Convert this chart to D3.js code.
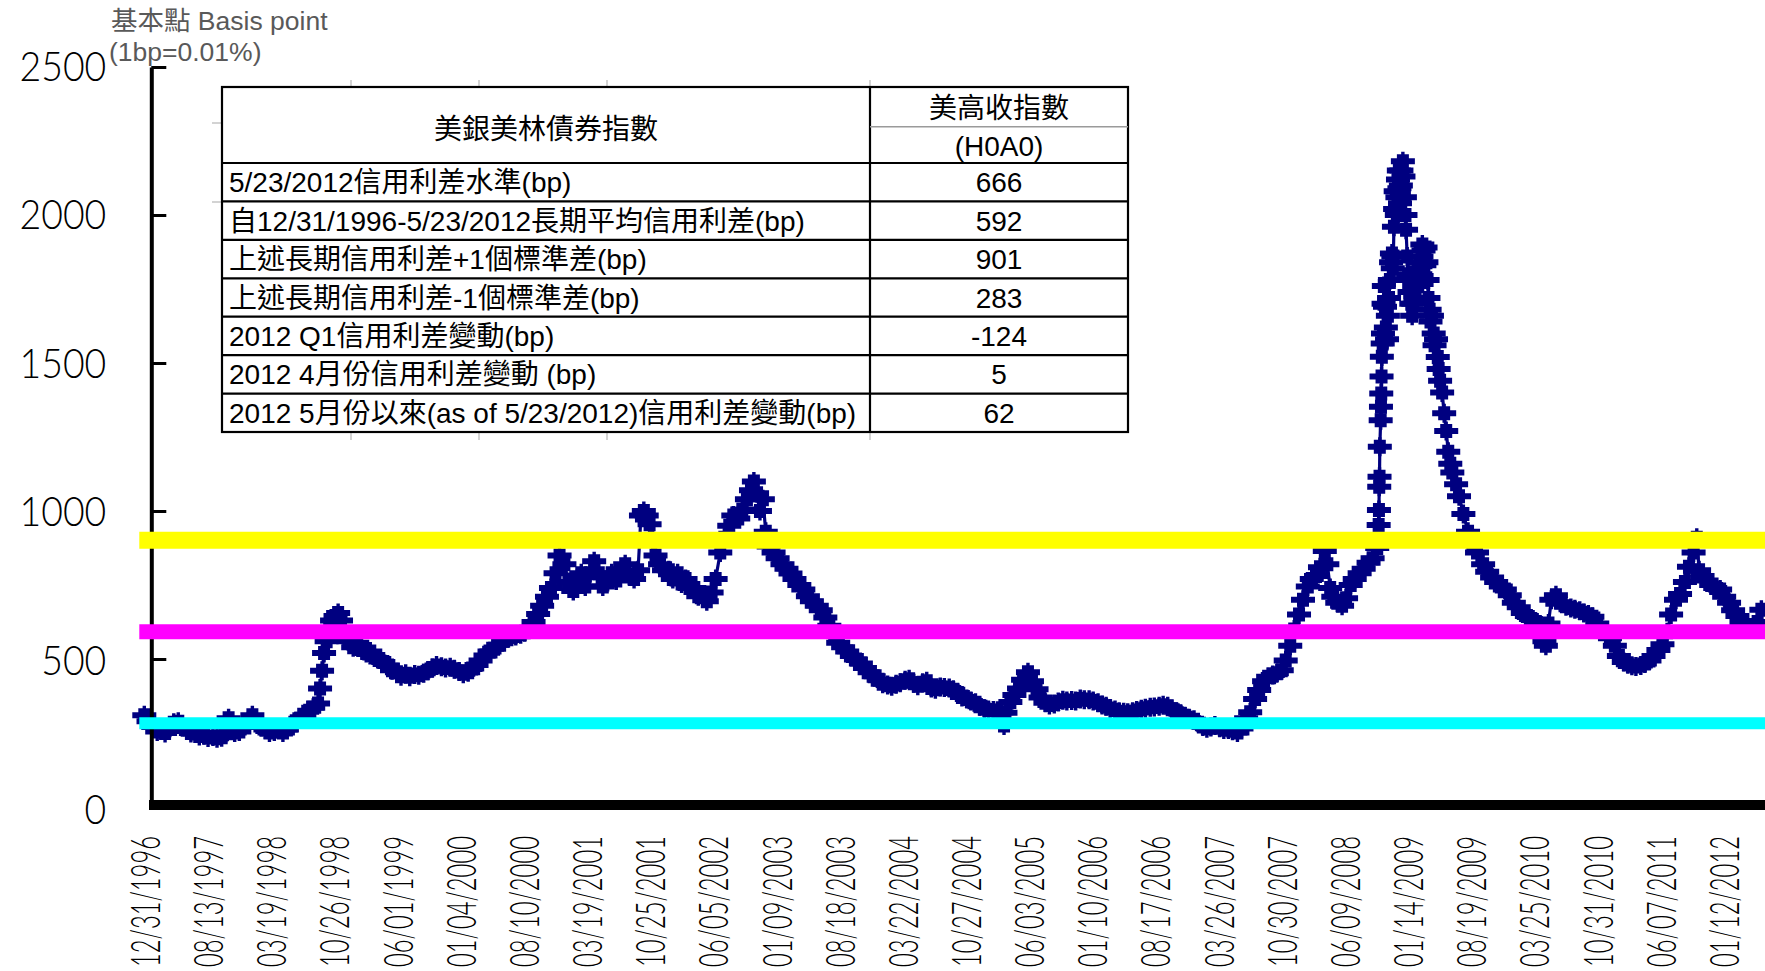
<!DOCTYPE html>
<html>
<head>
<meta charset="utf-8">
<title>美高收指數信用利差</title>
<script src="https://cdn.jsdelivr.net/npm/d3@7/dist/d3.min.js"></script>
<style>
  html, body { margin: 0; padding: 0; background: #fff; overflow: hidden; }
  svg { display: block; }
</style>
</head>
<body>
<svg id="chart" width="1765" height="971"></svg>
<script>
// ---------------------------------------------------------------
// Data
// ---------------------------------------------------------------

// Category axis labels (one every ~157 trading days)
const axisDateLabels = [
  "12/31/1996", "08/13/1997", "03/19/1998", "10/26/1998", "06/01/1999",
  "01/04/2000", "08/10/2000", "03/19/2001", "10/25/2001", "06/05/2002",
  "01/09/2003", "08/18/2003", "03/22/2004", "10/27/2004", "06/03/2005",
  "01/10/2006", "08/17/2006", "03/26/2007", "10/30/2007", "06/09/2008",
  "01/14/2009", "08/19/2009", "03/25/2010", "10/31/2010", "06/07/2011",
  "01/12/2012"
];
const lastObservation = "2012-05-23";

const yTickValues = [0, 500, 1000, 1500, 2000, 2500];

// BofA Merrill Lynch US High Yield (H0A0) spread, bp  — [MM-DD, value]
const spread1996 = [["12-31", 310]];
const spread1997 = [
  ["01-15", 290], ["02-01", 270], ["02-15", 255], ["03-01", 262], ["03-15", 250],
  ["04-01", 268], ["04-15", 285], ["05-01", 288], ["05-15", 270], ["06-01", 262],
  ["06-15", 250], ["07-01", 248], ["07-15", 240], ["08-01", 242], ["08-15", 235],
  ["09-01", 238], ["09-15", 232], ["10-01", 236], ["10-15", 250], ["10-25", 300],
  ["11-01", 262], ["11-15", 252], ["12-01", 255], ["12-15", 270]
];
const spread1998 = [
  ["01-01", 290], ["01-15", 310], ["02-01", 285], ["02-15", 270], ["03-01", 262],
  ["03-15", 252], ["04-01", 255], ["04-15", 262], ["05-01", 252], ["05-15", 262],
  ["06-01", 275], ["06-15", 290], ["07-01", 298], ["07-15", 310], ["08-01", 325],
  ["08-15", 335], ["09-01", 350], ["09-08", 400], ["09-15", 460], ["09-22", 520],
  ["10-01", 560], ["10-10", 600], ["10-20", 630], ["11-01", 645], ["11-10", 655],
  ["11-20", 630], ["12-01", 590], ["12-15", 560]
];
const spread1999 = [
  ["01-01", 540], ["01-15", 555], ["02-01", 530], ["02-15", 520], ["03-01", 525],
  ["03-15", 505], ["04-01", 500], ["04-15", 490], ["05-01", 478], ["05-15", 462],
  ["06-01", 455], ["06-15", 442], ["07-01", 450], ["07-15", 440], ["08-01", 448],
  ["08-15", 445], ["09-01", 452], ["09-15", 460], ["10-01", 470], ["10-15", 478],
  ["11-01", 474], ["11-15", 470], ["12-01", 472], ["12-15", 465]
];
const spread2000 = [
  ["01-01", 458], ["01-15", 450], ["02-01", 455], ["02-15", 468], ["03-01", 480],
  ["03-15", 495], ["04-01", 512], ["04-15", 525], ["05-01", 535], ["05-15", 548],
  ["06-01", 562], ["06-15", 572], ["07-01", 575], ["07-15", 578], ["08-01", 584],
  ["08-15", 590], ["09-01", 600], ["09-15", 625], ["10-01", 652], ["10-15", 680],
  ["11-01", 710], ["11-15", 740], ["12-01", 790], ["12-15", 850]
];
const spread2001 = [
  ["01-01", 820], ["01-15", 760], ["02-01", 730], ["02-15", 770], ["03-01", 790],
  ["03-15", 745], ["04-01", 790], ["04-15", 830], ["05-01", 790], ["05-15", 745],
  ["06-01", 760], ["06-15", 790], ["07-01", 765], ["07-15", 795], ["08-01", 820],
  ["08-15", 780], ["09-01", 770], ["09-15", 800], ["09-25", 985], ["10-05", 1000],
  ["10-15", 985], ["10-25", 955], ["11-05", 900], ["11-15", 850], ["12-01", 820],
  ["12-15", 800]
];
const spread2002 = [
  ["01-01", 800], ["01-15", 770], ["02-01", 790], ["02-15", 755], ["03-01", 770],
  ["03-15", 740], ["04-01", 740], ["04-15", 712], ["05-01", 715], ["05-15", 695],
  ["06-01", 725], ["06-15", 770], ["07-01", 860], ["07-15", 910], ["08-01", 950],
  ["08-15", 985], ["09-01", 975], ["09-15", 1005], ["10-01", 1040], ["10-15", 1070],
  ["10-25", 1100], ["11-05", 1060], ["11-15", 1000], ["11-25", 1040], ["12-05", 930],
  ["12-15", 880], ["12-25", 900]
];
const spread2003 = [
  ["01-01", 860], ["01-15", 840], ["02-01", 820], ["02-15", 805], ["03-01", 789],
  ["03-15", 770], ["04-01", 750], ["04-15", 735], ["05-01", 712], ["05-15", 695],
  ["06-01", 680], ["06-15", 665], ["07-01", 640], ["07-15", 612], ["08-01", 578],
  ["08-15", 555], ["09-01", 540], ["09-15", 525], ["10-01", 510], ["10-15", 498],
  ["11-01", 485], ["11-15", 470], ["12-01", 455], ["12-15", 442]
];
const spread2004 = [
  ["01-01", 430], ["01-15", 416], ["02-01", 412], ["02-15", 408], ["03-01", 415],
  ["03-15", 420], ["04-01", 428], ["04-15", 432], ["05-01", 418], ["05-15", 410],
  ["06-01", 420], ["06-15", 425], ["07-01", 402], ["07-15", 398], ["08-01", 405],
  ["08-15", 404], ["09-01", 402], ["09-15", 396], ["10-01", 385], ["10-15", 372],
  ["11-01", 365], ["11-15", 358], ["12-01", 352], ["12-15", 340]
];
const spread2005 = [
  ["01-01", 332], ["01-15", 328], ["02-01", 326], ["02-15", 325], ["03-01", 320],
  ["03-10", 275], ["03-15", 318], ["04-01", 355], ["04-15", 378], ["05-01", 400],
  ["05-15", 430], ["06-01", 455], ["06-15", 425], ["07-01", 398], ["07-15", 370],
  ["08-01", 352], ["08-15", 345], ["09-01", 348], ["09-15", 355], ["10-01", 361],
  ["10-15", 358], ["11-01", 360], ["11-15", 358], ["12-01", 365], ["12-15", 362]
];
const spread2006 = [
  ["01-01", 362], ["01-15", 358], ["02-01", 352], ["02-15", 345], ["03-01", 340],
  ["03-15", 333], ["04-01", 328], ["04-15", 322], ["05-01", 320], ["05-15", 318],
  ["06-01", 322], ["06-15", 326], ["07-01", 330], ["07-15", 334], ["08-01", 337],
  ["08-15", 338], ["09-01", 340], ["09-15", 344], ["10-01", 340], ["10-15", 330],
  ["11-01", 322], ["11-15", 315], ["12-01", 306], ["12-15", 300]
];
const spread2007 = [
  ["01-01", 295], ["01-15", 285], ["02-01", 272], ["02-15", 266], ["03-01", 270],
  ["03-15", 275], ["04-01", 268], ["04-15", 262], ["05-01", 262], ["05-15", 258],
  ["06-01", 252], ["06-15", 265], ["07-01", 300], ["07-15", 320], ["08-01", 365],
  ["08-15", 395], ["09-01", 425], ["09-15", 440], ["10-01", 446], ["10-15", 452],
  ["11-01", 462], ["11-15", 495], ["12-01", 545], ["12-15", 600]
];
const spread2008 = [
  ["01-01", 650], ["01-15", 700], ["02-01", 745], ["02-15", 770], ["03-01", 780],
  ["03-15", 810], ["04-01", 865], ["04-10", 820], ["04-20", 740], ["05-01", 710],
  ["05-15", 690], ["06-01", 680], ["06-15", 705], ["07-01", 750], ["07-15", 770],
  ["08-01", 790], ["08-15", 805], ["09-01", 825], ["09-15", 840], ["10-01", 875],
  ["10-06", 953], ["10-07", 1003], ["10-08", 1082], ["10-09", 1116], ["10-10", 1217],
  ["10-13", 1307], ["10-14", 1352], ["10-15", 1397], ["10-16", 1454], ["10-17", 1521],
  ["10-20", 1566], ["10-21", 1600], ["10-23", 1700], ["10-24", 1760], ["10-28", 1690],
  ["10-31", 1620], ["11-04", 1580], ["11-07", 1660], ["11-11", 1720], ["11-14", 1780],
  ["11-18", 1840], ["11-21", 1870], ["11-24", 1820], ["11-26", 1860], ["11-28", 1960],
  ["12-02", 2020], ["12-04", 2080], ["12-08", 2000], ["12-10", 2060], ["12-12", 2120],
  ["12-15", 2150], ["12-17", 2090], ["12-19", 2040], ["12-22", 2100], ["12-24", 2150],
  ["12-29", 2182], ["12-31", 2130]
];
const spread2009 = [
  ["01-05", 2060], ["01-07", 2000], ["01-09", 1950], ["01-13", 1860], ["01-16", 1800],
  ["01-21", 1740], ["01-23", 1780], ["01-27", 1700], ["01-30", 1660], ["02-03", 1700],
  ["02-06", 1760], ["02-10", 1720], ["02-13", 1780], ["02-18", 1820], ["02-20", 1760],
  ["02-24", 1840], ["02-27", 1800], ["03-03", 1860], ["03-06", 1900], ["03-10", 1880],
  ["03-13", 1830], ["03-17", 1890], ["03-20", 1840], ["03-24", 1780], ["03-27", 1720],
  ["03-31", 1680], ["04-03", 1640], ["04-08", 1660], ["04-14", 1600], ["04-17", 1560],
  ["04-22", 1580], ["04-28", 1520], ["05-01", 1480], ["05-06", 1440], ["05-13", 1400],
  ["05-20", 1330], ["05-27", 1270], ["06-03", 1200], ["06-10", 1160], ["06-17", 1130],
  ["06-30", 1090], ["07-10", 1050], ["07-25", 990], ["08-10", 930], ["08-25", 890],
  ["09-10", 860], ["10-01", 820], ["10-15", 795], ["11-01", 775], ["11-15", 760],
  ["12-01", 745], ["12-15", 735]
];
const spread2010 = [
  ["01-01", 715], ["01-15", 690], ["02-01", 675], ["02-15", 655], ["03-01", 645],
  ["03-15", 635], ["04-01", 625], ["04-15", 600], ["05-01", 560], ["05-06", 545],
  ["05-15", 620], ["05-25", 700], ["06-10", 715], ["06-25", 690], ["07-15", 678],
  ["08-01", 672], ["08-15", 668], ["09-01", 663], ["09-15", 655], ["10-01", 650],
  ["10-15", 643], ["11-01", 620], ["11-15", 600], ["12-01", 585], ["12-15", 570]
];
const spread2011 = [
  ["01-01", 545], ["01-15", 510], ["02-01", 490], ["02-15", 482], ["03-01", 477],
  ["03-15", 475], ["04-01", 478], ["04-15", 485], ["05-01", 495], ["05-15", 510],
  ["06-01", 530], ["06-15", 550], ["07-01", 590], ["07-15", 650], ["08-01", 700],
  ["08-15", 720], ["09-01", 760], ["09-15", 812], ["10-01", 860], ["10-12", 910],
  ["10-20", 800], ["11-01", 780], ["11-15", 765], ["12-01", 750], ["12-15", 740]
];
const spread2012 = [
  ["01-01", 735], ["01-15", 710], ["02-01", 690], ["02-15", 665], ["03-01", 645],
  ["03-15", 625], ["04-01", 610], ["04-15", 605], ["05-01", 615], ["05-10", 625],
  ["05-23", 666]
];

// Reference levels: long-run mean and ±1 standard deviation (bp)
const levelNames  = ["+1σ", "mean", "-1σ"];
const levelValues = [901, 592, 283];

// Summary table
const tableHeadLeft  = "美銀美林債券指數";
const tableHeadRight = ["美高收指數", "(H0A0)"];
const tableRowLabels = [
  "5/23/2012信用利差水準(bp)",
  "自12/31/1996-5/23/2012長期平均信用利差(bp)",
  "上述長期信用利差+1個標準差(bp)",
  "上述長期信用利差-1個標準差(bp)",
  "2012 Q1信用利差變動(bp)",
  "2012 4月份信用利差變動 (bp)",
  "2012 5月份以來(as of 5/23/2012)信用利差變動(bp)"
];
const tableRowValues = ["666", "592", "901", "283", "-124", "5", "62"];

const unitLines = ["基本點 Basis point", "(1bp=0.01%)"];

// ---------------------------------------------------------------
// Styles
// ---------------------------------------------------------------
const W = 1765, H = 971;
const NAVY = "#000080";
const levelStyle = {
  "+1σ":  { color: "#FFFF00", width: 17 },
  "mean": { color: "#FF00FF", width: 15 },
  "-1σ":  { color: "#00FFFF", width: 12 }
};
const TEXT_FONT = "'Liberation Sans', Arial, 'Noto Sans CJK TC', sans-serif";
const AXIS_FONT = "Lato, 'Liberation Sans', Arial, sans-serif";
// chunky plus marker drawn at every observation
const MARKER = "M-12,-3H-6V-7H-1.7V-9.5H1.7V-7H6V-3H12V3H6V7H1.7V9.5H-1.7V7H-6V3H-12Z";

// ---------------------------------------------------------------
// Scales
// ---------------------------------------------------------------
const svg = d3.select("#chart");
const parseMDY = d3.timeParse("%m/%d/%Y");
const parseISO = d3.timeParse("%Y-%m-%d");
const fmtMDY = d3.timeFormat("%m/%d/%Y");

const labelDates = axisDateLabels.map(parseMDY);
const endDate = parseISO(lastObservation);
const X0 = 144.3, STEP = 63.16;            // category spacing between labels
const nL = labelDates.length;
const xRange = labelDates.map((d, i) => X0 + i * STEP);
const lastRate = STEP / (labelDates[nL - 1] - labelDates[nL - 2]);
xRange.push(xRange[nL - 1] + (endDate - labelDates[nL - 1]) * lastRate);

const x = d3.scaleTime().domain([...labelDates, endDate]).range(xRange);
const y = d3.scaleLinear().domain([0, 2500]).range([807, 67]);

const spreadByYear = {
  1996: spread1996, 1997: spread1997, 1998: spread1998, 1999: spread1999,
  2000: spread2000, 2001: spread2001, 2002: spread2002, 2003: spread2003,
  2004: spread2004, 2005: spread2005, 2006: spread2006, 2007: spread2007,
  2008: spread2008, 2009: spread2009, 2010: spread2010, 2011: spread2011,
  2012: spread2012
};
const series = Object.entries(spreadByYear).flatMap(([yr, rows]) =>
  rows.map(([md, v]) => ({ date: parseISO(`${yr}-${md}`), value: v })));

// ---------------------------------------------------------------
// Spread series: connecting line + markers
// ---------------------------------------------------------------
const plot = svg.append("g").attr("class", "series");
plot.append("path")
  .datum(series)
  .attr("fill", "none")
  .attr("stroke", NAVY)
  .attr("stroke-width", 3.2)
  .attr("stroke-linejoin", "round")
  .attr("d", d3.line().x(d => x(d.date)).y(d => y(d.value)));

plot.selectAll("path.marker")
  .data(series)
  .join("path")
  .attr("class", "marker")
  .attr("d", MARKER)
  .attr("fill", NAVY)
  .attr("transform", d => `translate(${x(d.date)},${y(d.value)})`);

// ---------------------------------------------------------------
// Axes
// ---------------------------------------------------------------
const yAxis = d3.axisLeft(y)
  .tickValues(yTickValues)
  .tickFormat(d3.format("d"))
  .tickSize(-15)
  .tickSizeOuter(0)
  .tickPadding(45);

const gy = svg.append("g")
  .attr("class", "y-axis")
  .attr("transform", "translate(151.3,0)")
  .call(yAxis);
gy.select(".domain").attr("stroke", "#000").attr("stroke-width", 4);
gy.selectAll(".tick line").attr("stroke", "#000").attr("stroke-width", 3);
gy.selectAll(".tick text")
  .attr("fill", "#000")
  .attr("font-family", AXIS_FONT)
  .attr("font-weight", 300)
  .attr("font-size", 42)
  .attr("dy", d => (16 + d / 2500 * -3) + "px")
  .attr("textLength", d => String(d).length * 21.7)
  .attr("lengthAdjust", "spacingAndGlyphs");

// heavy baseline
svg.append("line")
  .attr("x1", 149).attr("x2", W)
  .attr("y1", y(0) - 2).attr("y2", y(0) - 2)
  .attr("stroke", "#000").attr("stroke-width", 10);

const xAxis = d3.axisBottom(x)
  .tickValues(labelDates)
  .tickFormat(fmtMDY)
  .tickSize(0);

const gx = svg.append("g")
  .attr("class", "x-axis")
  .attr("transform", "translate(0,836)")
  .call(xAxis);
gx.select(".domain").remove();
gx.selectAll(".tick text")
  .attr("x", 0).attr("y", 0)
  .attr("dy", "0.36em")
  .attr("transform", "rotate(-90)")
  .attr("text-anchor", "end")
  .attr("fill", "#000")
  .attr("font-family", AXIS_FONT)
  .attr("font-weight", 300)
  .attr("font-size", 42)
  .attr("textLength", 131)
  .attr("lengthAdjust", "spacingAndGlyphs");

// ---------------------------------------------------------------
// Mean / ±1σ level lines
// ---------------------------------------------------------------
const levels = levelNames.map((name, i) => ({ name, value: levelValues[i] }));
svg.append("g").attr("class", "levels")
  .selectAll("line")
  .data(levels)
  .join("line")
  .attr("x1", x(labelDates[0]) - 5)
  .attr("x2", W)
  .attr("y1", d => y(d.value))
  .attr("y2", d => y(d.value))
  .attr("stroke", d => levelStyle[d.name].color)
  .attr("stroke-width", d => levelStyle[d.name].width);

// ---------------------------------------------------------------
// Unit caption
// ---------------------------------------------------------------
svg.append("g").attr("class", "unit")
  .selectAll("text")
  .data(unitLines)
  .join("text")
  .attr("x", (d, i) => i === 0 ? 111 : 109)
  .attr("y", (d, i) => i === 0 ? 30 : 61)
  .attr("font-family", TEXT_FONT)
  .attr("font-size", 26.5)
  .attr("fill", "#595959")
  .text(d => d);

// ---------------------------------------------------------------
// Summary table
// ---------------------------------------------------------------
const T = { left: 222, mid: 870, right: 1128, top: 87, headSplit: 126.7, headBottom: 163, bottom: 432 };
const rowH = (T.bottom - T.headBottom) / tableRowLabels.length;
const table = svg.append("g").attr("class", "table");

// faint sheet-grid stubs around the pasted range
const stubX = [351, 479, 607, 870];
table.selectAll("line.stub-top").data(stubX).join("line")
  .attr("x1", d => d).attr("x2", d => d).attr("y1", T.top - 7).attr("y2", T.top)
  .attr("stroke", "#c4c4c4").attr("stroke-width", 1.5);
table.selectAll("line.stub-bot").data(stubX).join("line")
  .attr("x1", d => d).attr("x2", d => d).attr("y1", T.bottom).attr("y2", T.bottom + 8)
  .attr("stroke", "#c4c4c4").attr("stroke-width", 1.5);
table.selectAll("line.stub-left").data([123, 202]).join("line")
  .attr("x1", T.left - 10).attr("x2", T.left).attr("y1", d => d).attr("y2", d => d)
  .attr("stroke", "#c4c4c4").attr("stroke-width", 1.5);

table.append("rect")
  .attr("x", T.left).attr("y", T.top)
  .attr("width", T.right - T.left).attr("height", T.bottom - T.top)
  .attr("fill", "#fff").attr("stroke", "#000").attr("stroke-width", 2.2);

table.append("line")
  .attr("x1", T.mid).attr("x2", T.mid).attr("y1", T.top).attr("y2", T.bottom)
  .attr("stroke", "#000").attr("stroke-width", 2.2);
table.append("line")
  .attr("x1", T.mid).attr("x2", T.right).attr("y1", T.headSplit).attr("y2", T.headSplit)
  .attr("stroke", "#9a9a9a").attr("stroke-width", 1.5);

const rowTops = d3.range(tableRowLabels.length).map(i => T.headBottom + i * rowH);
table.selectAll("line.row").data(rowTops).join("line")
  .attr("class", "row")
  .attr("x1", T.left).attr("x2", T.right)
  .attr("y1", d => d).attr("y2", d => d)
  .attr("stroke", "#000").attr("stroke-width", 2.2);

const tText = sel => sel
  .attr("font-family", TEXT_FONT)
  .attr("font-size", 28)
  .attr("fill", "#000")
  .attr("dy", "0.36em");

table.append("text").call(tText)
  .attr("x", (T.left + T.mid) / 2).attr("y", 129)
  .attr("text-anchor", "middle")
  .text(tableHeadLeft);
table.selectAll("text.head-r").data(tableHeadRight).join("text").call(tText)
  .attr("class", "head-r")
  .attr("x", (T.mid + T.right) / 2)
  .attr("y", (d, i) => i === 0 ? 108 : 146)
  .attr("text-anchor", "middle")
  .text(d => d);

table.selectAll("text.row-label").data(tableRowLabels).join("text").call(tText)
  .attr("class", "row-label")
  .attr("x", T.left + 7)
  .attr("y", (d, i) => rowTops[i] + rowH / 2)
  .text(d => d);
table.selectAll("text.row-value").data(tableRowValues).join("text").call(tText)
  .attr("class", "row-value")
  .attr("x", (T.mid + T.right) / 2)
  .attr("y", (d, i) => rowTops[i] + rowH / 2)
  .attr("text-anchor", "middle")
  .text(d => d);
</script>
</body>
</html>
